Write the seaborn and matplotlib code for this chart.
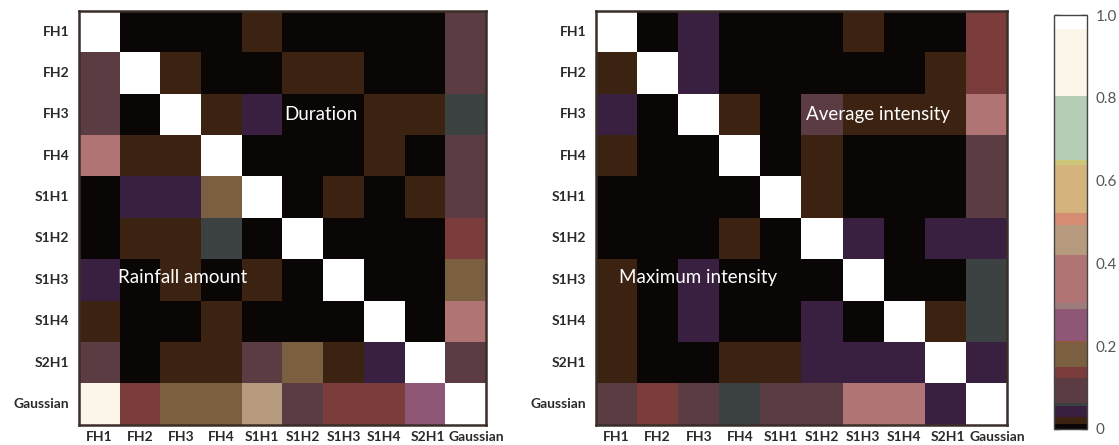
import numpy as np
import matplotlib
matplotlib.use("Agg")
import matplotlib.pyplot as plt
import matplotlib.transforms as mtransforms
import seaborn as sns
from matplotlib.colors import ListedColormap, to_rgb
from matplotlib.ticker import FixedLocator, FuncFormatter

sns.set_theme(style="white")
plt.rcParams['font.family'] = ['Lato', 'DejaVu Sans']

labels = ["FH1", "FH2", "FH3", "FH4", "S1H1", "S1H2", "S1H3", "S1H4", "S2H1", "Gaussian"]

# colour-band lower bounds and colours of the discrete scale
band_bounds = [0.000, 0.012, 0.029, 0.056, 0.063, 0.123, 0.150, 0.208, 0.212,
               0.290, 0.304, 0.420, 0.493, 0.522, 0.638, 0.650, 0.805, 0.966]
band_colors = ["#0b0606", "#3c2210", "#3a2040", "#3c4141", "#5a3c42", "#7a3d3c",
               "#7a6040", "#8c5a3a", "#8e5776", "#9c7c7c", "#b07474", "#b59a7e",
               "#d48c72", "#d4b47c", "#ccc67a", "#b5ceb5", "#fcf5ea", "#ffffff"]

# left panel: upper triangle = Duration, lower triangle = Rainfall amount
left_values = [
    [1.000, 0.005, 0.005, 0.005, 0.020, 0.005, 0.005, 0.005, 0.005, 0.090],
    [0.090, 1.000, 0.020, 0.005, 0.005, 0.020, 0.020, 0.005, 0.005, 0.090],
    [0.090, 0.005, 1.000, 0.020, 0.040, 0.005, 0.005, 0.020, 0.020, 0.059],
    [0.360, 0.020, 0.020, 1.000, 0.005, 0.005, 0.005, 0.020, 0.005, 0.090],
    [0.005, 0.040, 0.040, 0.180, 1.000, 0.005, 0.020, 0.005, 0.020, 0.090],
    [0.005, 0.020, 0.020, 0.059, 0.005, 1.000, 0.005, 0.005, 0.005, 0.135],
    [0.040, 0.005, 0.020, 0.005, 0.020, 0.005, 1.000, 0.005, 0.005, 0.180],
    [0.020, 0.005, 0.005, 0.020, 0.005, 0.005, 0.005, 1.000, 0.005, 0.360],
    [0.090, 0.005, 0.020, 0.020, 0.090, 0.180, 0.020, 0.040, 1.000, 0.090],
    [0.900, 0.135, 0.180, 0.180, 0.460, 0.090, 0.135, 0.135, 0.250, 1.000],
]

# right panel: upper triangle = Average intensity, lower triangle = Maximum intensity
right_values = [
    [1.000, 0.005, 0.040, 0.005, 0.005, 0.005, 0.020, 0.005, 0.005, 0.135],
    [0.020, 1.000, 0.040, 0.005, 0.005, 0.005, 0.005, 0.005, 0.020, 0.135],
    [0.040, 0.005, 1.000, 0.020, 0.005, 0.090, 0.020, 0.020, 0.020, 0.360],
    [0.020, 0.005, 0.005, 1.000, 0.005, 0.020, 0.005, 0.005, 0.005, 0.090],
    [0.005, 0.005, 0.005, 0.005, 1.000, 0.020, 0.005, 0.005, 0.005, 0.090],
    [0.005, 0.005, 0.005, 0.020, 0.005, 1.000, 0.040, 0.005, 0.040, 0.040],
    [0.020, 0.005, 0.040, 0.005, 0.005, 0.005, 1.000, 0.005, 0.005, 0.059],
    [0.020, 0.005, 0.040, 0.005, 0.005, 0.040, 0.005, 1.000, 0.020, 0.059],
    [0.020, 0.005, 0.005, 0.020, 0.020, 0.040, 0.040, 0.040, 1.000, 0.040],
    [0.090, 0.135, 0.090, 0.059, 0.090, 0.090, 0.360, 0.360, 0.040, 1.000],
]

panel_texts = [
    [("Duration", 5.05, 2.5), ("Rainfall amount", 0.95, 6.45)],
    [("Average intensity", 5.1, 2.5), ("Maximum intensity", 0.55, 6.45)],
]

# build a stepped colormap from the bands
N = 2000
samples = (np.arange(N) + 0.5) / N
idx = np.searchsorted(band_bounds, samples, side="right") - 1
cmap = ListedColormap([to_rgb(band_colors[i]) for i in idx])

fig = plt.figure(figsize=(11.19, 4.45), dpi=100)
ax_l = fig.add_axes([0.0706, 0.046, 0.3637, 0.929])
ax_r = fig.add_axes([0.5326, 0.046, 0.3673, 0.929])
cax = fig.add_axes([0.942, 0.036, 0.0295, 0.930])

spine_col = "#3a2e28"
for k, (ax, vals) in enumerate([(ax_l, left_values), (ax_r, right_values)]):
    df = np.array(vals)
    sns.heatmap(df, ax=ax, cmap=cmap, vmin=0, vmax=1,
                xticklabels=labels, yticklabels=labels,
                cbar=(k == 1), cbar_ax=cax if k == 1 else None)
    for s in ax.spines.values():
        s.set_visible(True)
        s.set_color(spine_col)
        s.set_linewidth(1.8)
    ax.tick_params(axis="both", length=0, labelsize=10, labelcolor="#2a2a2a")
    ax.tick_params(axis="y", pad=7)
    ax.tick_params(axis="x", pad=5)
    ax.set_xticklabels(labels, rotation=0, fontweight="bold")
    ax.set_yticklabels(labels, rotation=0, fontweight="bold")
    # the last x label sits slightly right of its cell centre, as in the original
    xt = ax.get_xticklabels()
    offset = mtransforms.ScaledTranslation(11 / 100, 0, fig.dpi_scale_trans)
    xt[-1].set_transform(xt[-1].get_transform() + offset)
    xt[-2].set_transform(xt[-2].get_transform() +
                         mtransforms.ScaledTranslation(3 / 100, 0, fig.dpi_scale_trans))
    for txt, x, y in panel_texts[k]:
        ax.text(x, y, txt, color="white", fontsize=13.5, ha="left", va="center")

cb = ax_r.collections[0].colorbar
cb.outline.set_edgecolor("#444444")
cb.outline.set_linewidth(1.0)
cax.yaxis.set_major_locator(FixedLocator([0, 0.2, 0.4, 0.6, 0.8, 1.0]))
cax.yaxis.set_minor_locator(FixedLocator([0.1, 0.3, 0.5, 0.7, 0.9]))
cax.yaxis.set_major_formatter(FuncFormatter(lambda v, p: "0" if abs(v) < 1e-9 else f"{v:.1f}"))
cax.tick_params(which="both", direction="in", left=True, right=True, length=4,
                width=1, color="#333333", labelsize=11, labelcolor="#555555", pad=6)

fig.savefig("out.png", dpi=100)
